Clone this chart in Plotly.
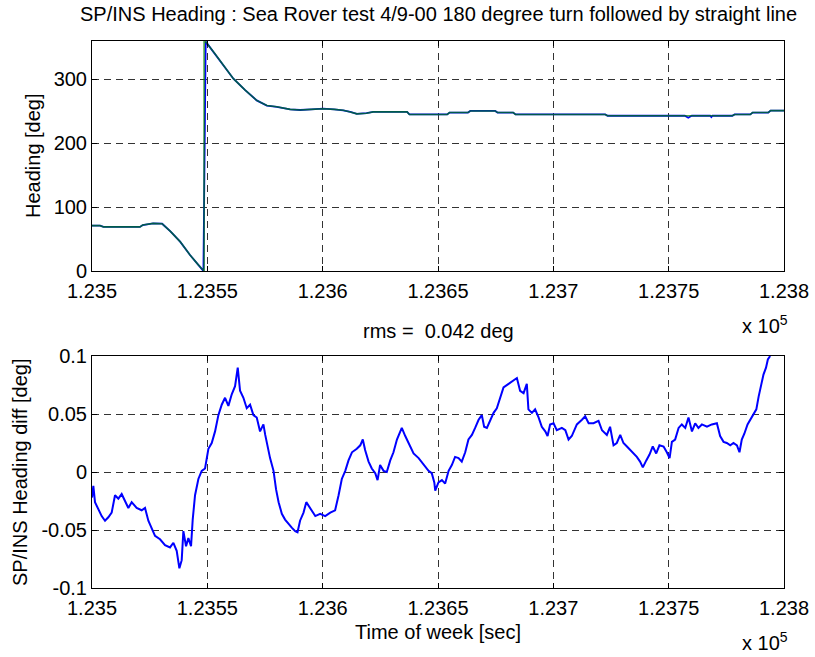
import plotly.graph_objects as go

T0 = 123500

# ---- Top panel: heading (deg) vs time offset (s) ----
t_ins = [0, 3.5, 5, 20.8, 22, 26.5, 30.4, 34, 38.2, 42.5, 46, 48.3, 49.3, 53.3, 57, 61.3, 66.4,
         71.4, 75.8, 80.1, 85.9, 90.2, 95, 100.2, 105, 108.9, 112, 114.8, 119, 121.9, 136.6,
         137.6, 154, 155, 163, 164, 174.8, 175.8, 182.6, 183.6, 222.5, 223.5, 257, 258.5, 260,
         268, 268.5, 269, 277.6, 278.6, 285.4, 286.4, 293.2, 294.2, 300]
hdg_ins = [71, 71, 69, 69, 72, 74.5, 74, 62, 46, 25, 10, 0, 359, 340, 322, 301, 283,
           267, 259, 257, 253, 252, 253, 254, 253, 251.5, 249, 246, 247, 249, 249,
           245, 245, 248, 248, 250.5, 250.5, 248, 248, 245, 245, 243, 243, 240, 243,
           243, 241, 243, 243, 245, 245, 248, 248, 251, 251]

t_sp = [0, 3.5, 5, 20.8, 22, 26.5, 30.4, 34, 38.2, 42.5, 46, 48.6, 48.6, 49.5, 53.3, 57, 61.3,
        66.4, 71.4, 75.8, 80.1, 85.9, 90.2, 95, 100.2, 105, 108.9, 112, 114.8, 119, 121.9,
        136.6, 137.6, 154, 155, 163, 164, 174.8, 175.8, 182.6, 183.6, 222.5, 223.5, 277.6,
        278.6, 285.4, 286.4, 293.2, 294.2, 300]
hdg_sp = [71, 71, 69, 69, 72, 74.5, 74, 62, 46, 25, 10, 0, 360, 358, 340, 322, 301,
          283, 267, 259, 257, 253, 252, 253, 254, 253, 251.5, 249, 246, 247, 249,
          249, 245, 245, 248, 248, 250.5, 250.5, 248, 248, 245, 245, 243, 243,
          245, 245, 248, 248, 251, 251]

# ---- Bottom panel: heading difference (deg) ----
t_diff = [0.0, 0.58, 1.30, 2.75, 4.19, 5.64, 7.08, 8.53, 9.98, 11.42, 12.87, 14.31, 15.76, 17.2,
          19.37, 21.54, 22.99, 24.43, 25.88, 27.32, 29.49, 31.66, 33.83, 35.28, 36.72, 37.88,
          38.89, 39.61, 40.77, 41.78, 42.94, 43.66, 44.67, 46.12, 47.56, 49.01, 50.46, 51.90,
          53.35, 54.79, 56.24, 57.68, 59.13, 60.58, 62.02, 63.18, 64.19, 65.64, 67.08, 68.53,
          69.97, 71.42, 72.86, 74.31, 75.1, 75.8, 77.2, 78.7, 79.8, 80.9, 82.3, 83.7, 85.2,
          86.6, 88.1, 89.1, 90.2, 91.7, 92.9, 93.9, 95.3, 96.8, 98.9, 101.1, 103.3, 105.4,
          106.9, 108.3, 109.8, 111.2, 112.7, 114.8, 116.3, 117.4, 118.4, 119.9, 121.3, 122.8,
          123.8, 124.9, 126.4, 127.8, 129.3, 130.7, 132.2, 133.6, 134.3, 135.8, 137.2, 139.4,
          141.6, 143.7, 145.9, 147.3, 148.4, 148.8, 150.2, 151.7, 153.1, 154.6, 156.0, 157.4,
          158.9, 160.3, 161.8, 163.2, 164.7, 166.1, 167.6, 169.0, 170.0, 171.2, 172.6, 174.1,
          175.5, 177.0, 178.4, 180.6, 182.7, 184.2, 185.6, 187.1, 188.5, 189.2, 190.7, 192.1,
          193.6, 195.0, 196.5, 197.5, 198.6, 200.1, 201.5, 203.7, 205.2, 206.6, 208.0, 210.2,
          212.4, 213.8, 215.3, 217.4, 219.6, 221.1, 223.2, 224.6, 226.1, 227.5, 229.0, 230.4,
          231.9, 233.3, 234.8, 236.2, 237.6, 238.8, 240.3, 241.7, 243.1, 244.6, 246.0, 247.8,
          249.2, 250.4, 251.4, 252.8, 254.3, 255.7, 257.2, 258.6, 260.1, 261.5, 262.9, 264.4,
          266.6, 268.7, 270.9, 272.3, 273.8, 275.2, 276.7, 278.1, 279.6, 280.7, 281.7, 282.8,
          284.2, 286.1, 288.0, 289.0, 290.1, 291.1, 292.2, 293.0, 294.0]
diff = [-0.022, -0.012, -0.026, -0.032, -0.038, -0.042, -0.039, -0.035, -0.020, -0.023, -0.019,
        -0.025, -0.031, -0.026, -0.031, -0.033, -0.031, -0.042, -0.049, -0.055, -0.058, -0.063,
        -0.065, -0.061, -0.068, -0.083, -0.076, -0.051, -0.064, -0.057, -0.064, -0.041, -0.020,
        -0.006, 0.001, 0.003, 0.020, 0.025, 0.035, 0.049, 0.058, 0.064, 0.057, 0.067, 0.074,
        0.090, 0.070, 0.064, 0.055, 0.058, 0.049, 0.047, 0.035, 0.041, 0.032, 0.025, 0.012,
        0.001, -0.015, -0.026, -0.036, -0.041, -0.045, -0.048, -0.051, -0.052, -0.042, -0.035,
        -0.026, -0.029, -0.033, -0.038, -0.036, -0.038, -0.035, -0.033, -0.020, -0.006, 0.001,
        0.010, 0.017, 0.020, 0.023, 0.028, 0.019, 0.009, 0.003, -0.001, -0.007, 0.006, 0.001,
        0.000, 0.010, 0.017, 0.028, 0.035, 0.038, 0.031, 0.025, 0.016, 0.012, 0.007, 0.001,
        -0.001, -0.009, -0.016, -0.009, -0.007, -0.010, 0.001, 0.006, 0.013, 0.012, 0.009,
        0.017, 0.028, 0.032, 0.038, 0.045, 0.049, 0.039, 0.038, 0.045, 0.051, 0.055, 0.064,
        0.073, 0.076, 0.079, 0.081, 0.070, 0.068, 0.076, 0.054, 0.051, 0.054, 0.047, 0.039,
        0.035, 0.031, 0.041, 0.042, 0.036, 0.038, 0.036, 0.028, 0.031, 0.041, 0.045, 0.048,
        0.042, 0.042, 0.044, 0.036, 0.032, 0.039, 0.023, 0.025, 0.032, 0.025, 0.022, 0.019,
        0.016, 0.013, 0.009, 0.004, 0.010, 0.015, 0.022, 0.016, 0.023, 0.022, 0.017, 0.012,
        0.026, 0.028, 0.038, 0.041, 0.038, 0.047, 0.035, 0.042, 0.038, 0.041, 0.039, 0.041,
        0.042, 0.031, 0.026, 0.025, 0.023, 0.025, 0.023, 0.017, 0.028, 0.033, 0.041, 0.048,
        0.054, 0.065, 0.076, 0.084, 0.090, 0.097, 0.100]

x_ticks = [123500, 123550, 123600, 123650, 123700, 123750, 123800]
x_ticktext = ["1.235", "1.2355", "1.236", "1.2365", "1.237", "1.2375", "1.238"]
y1_ticks = [0, 100, 200, 300]
y2_ticks = [-0.1, -0.05, 0, 0.05, 0.1]
y2_ticktext = ["-0.1", "-0.05", "0", "0.05", "0.1"]

FONT = "Liberation Sans, Arial, sans-serif"
FS = 20

# plot-area geometry (pixels)
W, H = 815, 657
L, R, T, B = 92, 784, 41, 588
PW, PH = R - L, B - T


def px(x):
    return (x - L) / PW


def py(y):
    return (B - y) / PH


fig = go.Figure()
fig.add_trace(go.Scatter(x=[T0 + t for t in t_ins], y=hdg_ins, mode="lines",
                         line=dict(color="#0000ff", width=1.8), xaxis="x", yaxis="y"))
fig.add_trace(go.Scatter(x=[T0 + t for t in t_sp], y=hdg_sp, mode="lines", opacity=0.7,
                         line=dict(color="#008000", width=1.6), xaxis="x", yaxis="y"))
fig.add_trace(go.Scatter(x=[T0 + t for t in t_diff], y=diff, mode="lines",
                         line=dict(color="#0000ff", width=2), xaxis="x2", yaxis="y2"))

common_ax = dict(showline=True, linecolor="black", linewidth=1, mirror="allticks",
                 ticks="inside", ticklen=5, tickcolor="black", showgrid=True,
                 gridcolor="#333333", gridwidth=1, griddash="7px,5px", zeroline=False,
                 automargin=False,
                 tickfont=dict(family=FONT, size=FS, color="black"))

ann_font = dict(family=FONT, size=FS, color="black")

fig.update_layout(
    width=W, height=H,
    margin=dict(l=L, r=W - R, t=T, b=H - B, pad=0),
    paper_bgcolor="white", plot_bgcolor="white",
    showlegend=False,
    font=dict(family=FONT, size=FS, color="black"),
    xaxis=dict(domain=[0, 1], anchor="y", range=[123500, 123800], ticklabelstandoff=2,
               tickvals=x_ticks, ticktext=x_ticktext, **common_ax),
    yaxis=dict(domain=[py(271), 1], anchor="x", range=[0, 360],
               tickvals=y1_ticks, **common_ax),
    xaxis2=dict(domain=[0, 1], anchor="y2", range=[123500, 123800], ticklabelstandoff=2,
                tickvals=x_ticks, ticktext=x_ticktext, **common_ax),
    yaxis2=dict(domain=[0, py(356)], anchor="x2", range=[-0.1, 0.1],
                tickvals=y2_ticks, ticktext=y2_ticktext, **common_ax),
    annotations=[
        dict(text="SP/INS Heading : Sea Rover test 4/9-00 180 degree turn followed by straight line",
             x=px(439), y=py(14), xref="paper", yref="paper", showarrow=False,
             xanchor="center", yanchor="middle", font=ann_font),
        dict(text="rms =  0.042 deg", x=px(438), y=py(331), xref="paper", yref="paper",
             xanchor="center", yanchor="middle", showarrow=False, font=ann_font),
        dict(text="x 10<sup>5</sup>", x=px(740), y=py(324), xref="paper", yref="paper",
             xanchor="left", yanchor="middle", showarrow=False, font=ann_font),
        dict(text="x 10<sup>5</sup>", x=px(740), y=py(641), xref="paper", yref="paper",
             xanchor="left", yanchor="middle", showarrow=False, font=ann_font),
        dict(text="Heading [deg]", x=px(33), y=py(156), xref="paper", yref="paper",
             xanchor="center", yanchor="middle", textangle=-90, showarrow=False, font=ann_font),
        dict(text="SP/INS Heading diff [deg]", x=px(20), y=py(472), xref="paper", yref="paper",
             xanchor="center", yanchor="middle", textangle=-90, showarrow=False, font=ann_font),
        dict(text="Time of week [sec]", x=px(438), y=py(632), xref="paper", yref="paper",
             xanchor="center", yanchor="middle", showarrow=False, font=ann_font),
    ],
)

fig.write_html("out.html")
